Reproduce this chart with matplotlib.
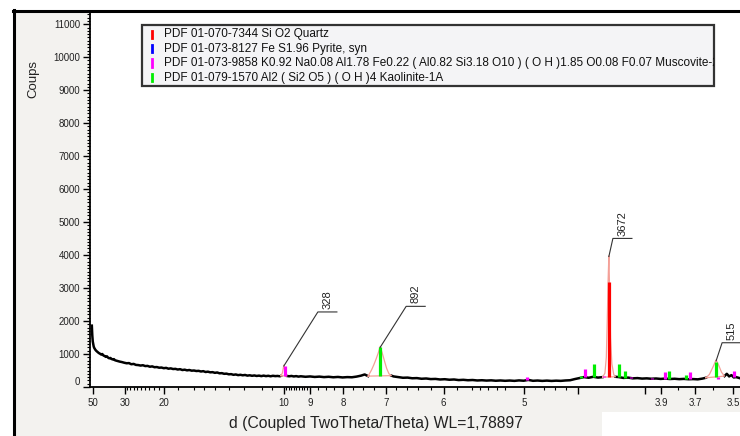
import numpy as np
import matplotlib
matplotlib.use("Agg")
import matplotlib.pyplot as plt
from matplotlib.patches import Rectangle
from matplotlib.lines import Line2D
from matplotlib.transforms import offset_copy

plt.rcParams["font.family"] = ["Liberation Sans", "DejaVu Sans"]

WAVELENGTH = 1.78897  # Co K-alpha, angstrom

# Measured scan (2theta in degrees, counts); apex points of the indexed peaks are added below
scan_2theta = [
    2.00, 2.02, 2.04, 2.06, 2.08, 2.10, 2.15, 2.20, 2.25, 2.30, 2.35, 2.40, 2.45, 2.50,
    2.55, 2.60, 2.65, 2.70, 2.75, 2.80, 2.85, 2.90, 2.95, 3.00, 3.10, 3.20, 3.30, 3.40,
    3.50, 3.60, 3.70, 3.80, 3.90, 4.00, 4.10, 4.20, 4.30, 4.40, 4.50, 4.60, 4.70, 4.80,
    4.90, 5.00, 5.10, 5.20, 5.30, 5.40, 5.50, 5.60, 5.70, 5.80, 5.90, 6.00, 6.10, 6.20,
    6.30, 6.40, 6.50, 6.60, 6.70, 6.80, 6.90, 7.00, 7.10, 7.20, 7.30, 7.40, 7.50, 7.60,
    7.70, 7.80, 7.90, 8.00, 8.10, 8.20, 8.30, 8.40, 8.50, 8.60, 8.70, 8.80, 8.90, 9.00,
    9.10, 9.20, 9.30, 9.40, 9.50, 9.60, 9.70, 9.80, 9.90, 10.00, 10.10, 10.15, 10.21,
    10.33, 10.40, 10.50, 10.60, 10.70, 10.80, 10.90, 11.00, 11.20, 11.40, 11.60, 11.80,
    12.00, 12.20, 12.40, 12.60, 12.80, 13.00, 13.20, 13.40, 13.60, 13.75, 13.90, 14.05,
    14.15, 14.25, 14.35, 14.50, 14.60, 14.70, 14.80, 14.90, 15.00, 15.20, 15.40, 15.60,
    15.80, 16.00, 16.20, 16.40, 16.60, 16.80, 17.00, 17.20, 17.40, 17.60, 17.80, 18.00,
    18.20, 18.40, 18.60, 18.80, 19.00, 19.20, 19.40, 19.60, 19.80, 20.00, 20.20, 20.40,
    20.60, 20.80, 21.00, 21.20, 21.40, 21.60, 21.80, 22.00, 22.20, 22.40, 22.60, 22.80,
    23.00, 23.20, 23.40, 23.60, 23.80, 24.00, 24.10, 24.16, 24.20, 24.24, 24.30, 24.34,
    24.40, 24.48, 24.55, 24.70, 24.90, 25.10, 25.30, 25.50, 25.70, 25.90, 26.10, 26.30,
    26.50, 26.70, 26.90, 27.10, 27.30, 27.50, 27.70, 27.90, 28.10, 28.30, 28.45, 28.60,
    28.75, 29.00, 29.12, 29.25, 29.35, 29.45, 29.55, 29.65, 29.75, 29.90,
]
scan_counts = [
    1860, 1560, 1380, 1300, 1230, 1190, 1130, 1090, 1060, 1030, 1010, 985, 1000, 955,
    940, 915, 930, 890, 870, 880, 850, 835, 845, 810, 790, 770, 755, 735,
    720, 725, 690, 700, 670, 665, 650, 660, 635, 640, 615, 625, 600, 605,
    585, 590, 570, 580, 555, 565, 545, 550, 530, 540, 515, 525, 505, 515,
    495, 500, 485, 490, 470, 480, 455, 465, 445, 450, 430, 440, 415, 420,
    400, 405, 385, 390, 370, 380, 360, 370, 355, 365, 345, 355, 340, 350,
    335, 345, 330, 345, 330, 340, 325, 340, 330, 335, 325, 340, 430,
    440, 335, 325, 335, 320, 330, 315, 325, 310, 320, 305, 315,
    300, 310, 295, 305, 290, 300, 295, 315, 345, 380, 330, 520,
    680, 860, 1060, 1050, 800, 560, 400, 345, 320, 300, 280, 285,
    265, 270, 250, 258, 240, 245, 228, 236, 220, 228, 210, 218,
    205, 212, 198, 205, 195, 202, 190, 198, 188, 196, 186, 200,
    190, 215, 188, 196, 185, 194, 184, 192, 186, 198, 205, 240,
    270, 300, 280, 310, 285, 300, 420, 900, 2000, 3300, 3000, 1500,
    700, 380, 310, 300, 275, 285, 262, 270, 255, 262, 250, 258,
    245, 255, 242, 250, 238, 246, 235, 240, 232, 255, 280, 380,
    600, 660, 450, 330, 400, 320, 360, 290, 300, 270,
]

# Peaks found in the scan: position, net intensity (label), integration window
peak_2theta = [10.27, 14.42, 24.27, 28.89]
peak_net = [328, 892, 3672, 515]
peak_window = [(10.15, 10.40), (13.90, 14.90), (24.00, 24.55), (28.45, 29.25)]

# Reference patterns (stick positions in 2theta, stick heights in counts)
quartz_2theta = [24.27]
quartz_counts = [3170]
pyrite_2theta = []
pyrite_counts = []
muscovite_2theta = [10.30, 20.74, 23.23, 24.07, 25.21, 26.12, 26.69, 27.77, 28.98, 29.67]
muscovite_counts = [650, 290, 550, 335, 315, 260, 440, 440, 250, 470]
kaolinite_2theta = [14.42, 23.07, 23.65, 24.70, 24.98, 26.88, 27.60, 28.88]
kaolinite_counts = [1200, 345, 700, 700, 490, 500, 350, 750]

legend_labels = [
    "PDF 01-070-7344 Si O2 Quartz",
    "PDF 01-073-8127 Fe S1.96 Pyrite, syn",
    "PDF 01-073-9858 K0.92 Na0.08 Al1.78 Fe0.22 ( Al0.82 Si3.18 O10 ) ( O H )1.85 O0.08 F0.07 Muscovite-2M1",
    "PDF 01-079-1570 Al2 ( Si2 O5 ) ( O H )4 Kaolinite-1A",
]
legend_colors = ["#ff0000", "#0000ff", "#ff00ff", "#00ee00"]

x_label_d = [50, 30, 20, 10, 9, 8, 7, 6, 5, 3.9, 3.7, 3.5]
x_label_text = ["50", "30", "20", "10", "9", "8", "7", "6", "5", "3.9", "3.7", "3.5"]
x_major_plain_d = [4.5, 4.0]
x_minor_d = [29, 28, 27, 26, 25, 24, 23, 22, 21, 18, 16, 15, 14, 13, 12, 11, 10.5,
             9.9, 9.8, 9.7, 9.6, 9.5, 9.4, 9.3, 9.2, 9.1, 8.75, 8.5, 8.25, 7.75, 7.5,
             7.25, 6.8, 6.6, 6.4, 6.2, 5.8, 5.6, 5.5, 5.4, 5.3, 5.2, 4.8, 4.7, 4.6,
             3.8, 3.6]

y_major = list(range(0, 11001, 1000))


def d_to_2theta(d):
    d = np.asarray(d, dtype=float)
    return 2 * np.degrees(np.arcsin(WAVELENGTH / (2 * d)))


W, H = 740, 436
fig = plt.figure(figsize=(W / 100, H / 100), dpi=100)
fig.patch.set_facecolor("white")


def fx(px):
    return px / W


def fy(py):
    return 1 - py / H


# window background and frame
fig.add_artist(Rectangle((fx(14), 0), 1 - fx(14), fy(11), transform=fig.transFigure,
                         facecolor="#f3f2ef", edgecolor="none", zorder=0))
fig.add_artist(Line2D([fx(13), 1], [fy(11), fy(11)], transform=fig.transFigure,
                      color="black", lw=2.2, zorder=5))
fig.add_artist(Line2D([fx(14), fx(14)], [fy(10), 0], transform=fig.transFigure,
                      color="black", lw=2.2, zorder=5))

ax = fig.add_axes([fx(90), fy(387), fx(740) - fx(90), fy(12) - fy(387)])
ax.set_facecolor("white")
ax.set_xlim(1.921, 29.918)
ax.set_ylim(30, 11370)
for s in ("top", "right"):
    ax.spines[s].set_visible(False)
for s in ("left", "bottom"):
    ax.spines[s].set_linewidth(1.3)

# scan with indexed peaks inserted at background + net intensity
raw_x = np.array(scan_2theta)
raw_y = np.array(scan_counts, dtype=float)
apex_y = []
for pos, net, (lo, hi) in zip(peak_2theta, peak_net, peak_window):
    ends = np.interp([lo, hi], raw_x, raw_y)
    apex_y.append(np.interp(pos, [lo, hi], ends) + net)
sx = np.r_[raw_x, peak_2theta]
sy = np.r_[raw_y, apex_y]
order = np.argsort(sx)
sx, sy = sx[order], sy[order]

in_peak = np.zeros_like(sx, dtype=bool)
for lo, hi in peak_window:
    in_peak |= (sx > lo) & (sx < hi)

black_y = np.where(in_peak, np.nan, sy)
ax.plot(sx, black_y, color="black", lw=1.8, zorder=3)

bg_x, bg_y = sx[~in_peak], sy[~in_peak]
for lo, hi in peak_window:
    m = (sx >= lo) & (sx <= hi)
    px_, py_ = sx[m], sy[m]
    ax.plot(np.r_[px_, px_[0]], np.r_[py_, py_[0]], color="#f4a098", lw=0.9, zorder=3.5)

# reference sticks, standing on the background
for xs, ys, c in [(quartz_2theta, quartz_counts, legend_colors[0]),
                  (pyrite_2theta, pyrite_counts, legend_colors[1]),
                  (muscovite_2theta, muscovite_counts, legend_colors[2]),
                  (kaolinite_2theta, kaolinite_counts, legend_colors[3])]:
    if len(xs) == 0:
        continue
    base = np.interp(xs, bg_x, bg_y)
    ax.vlines(xs, base, ys, colors=c, lw=2.3, zorder=4)

# peak labels: leader line, underline bar and rotated net intensity
label_offsets = [(24.5, 38.9), (18.7, 29.5), (2.9, 13.0), (4.3, 13.0)]  # points
bar_len = 13.7
for pos, top, net, (dx, dy) in zip(peak_2theta, apex_y, peak_net, label_offsets):
    t0 = offset_copy(ax.transData, fig=fig, x=dx, y=dy, units="points")
    t1 = offset_copy(ax.transData, fig=fig, x=dx + bar_len, y=dy, units="points")
    a = ax.transData.transform((pos, top))
    b = t0.transform((pos, top))
    c = t1.transform((pos, top))
    inv = fig.transFigure.inverted()
    pa, pb, pc = inv.transform(a), inv.transform(b), inv.transform(c)
    fig.add_artist(Line2D([pa[0], pb[0], pc[0]], [pa[1], pb[1], pc[1]],
                          transform=fig.transFigure, color="#333333", lw=0.8, zorder=6))
    ax.annotate(str(net), xy=(pos, top), xytext=(dx + bar_len / 2, dy + 1.5),
                textcoords="offset points", rotation=90, ha="center", va="bottom",
                fontsize=8, color="#222222", zorder=6)

# axes ticks
ax.set_xticks(np.r_[d_to_2theta(x_label_d), d_to_2theta(x_major_plain_d)])
ax.set_xticklabels(x_label_text + [""] * len(x_major_plain_d))
ax.set_xticks(d_to_2theta(x_minor_d), minor=True)
ax.set_yticks(y_major)
ax.set_yticklabels([str(v) for v in y_major])
ax.set_yticks(np.arange(0, 11301, 100), minor=True)
ax.tick_params(which="major", direction="out", length=5, width=1.0, color="black",
               labelsize=7, labelcolor="#222222")
ax.tick_params(which="minor", direction="out", length=2.4, width=0.8, color="black")
ax.tick_params(axis="x", which="major", pad=3)
ax.tick_params(axis="y", which="major", pad=2)
ax.get_yticklabels()[0].set_va("bottom")

fig.text(fx(376), fy(423), "d (Coupled TwoTheta/Theta) WL=1,78897", ha="center",
         va="center", fontsize=11.3, color="#222222")
fig.text(fx(33), fy(79), "Coups", rotation=90, ha="center", va="center",
         fontsize=9.5, color="#222222")

# legend box
lx0, lx1, ly0, ly1 = 142, 714, 25, 86
box = Rectangle((fx(lx0), fy(ly1)), fx(lx1) - fx(lx0), fy(ly0) - fy(ly1),
                transform=fig.transFigure, facecolor="#f4f4f6", edgecolor="#333333",
                lw=1.6, zorder=10)
fig.add_artist(box)
rows = [34.3, 48.7, 63.2, 77.6]
for r, lab, c in zip(rows, legend_labels, legend_colors):
    fig.add_artist(Line2D([fx(152), fx(152)], [fy(r - 3.7), fy(r + 3.7)],
                          transform=fig.transFigure, color=c, lw=2.0, zorder=11))
    t = fig.text(fx(164), fy(r), lab, ha="left", va="center", fontsize=8.5,
                 color="#111111", zorder=11)
    t.set_clip_path(box)

# blank patch in the lower right corner
fig.add_artist(Rectangle((fx(602), 0), 1 - fx(602), fy(412), transform=fig.transFigure,
                         facecolor="white", edgecolor="none", zorder=12))

fig.savefig("out.png", dpi=100)
